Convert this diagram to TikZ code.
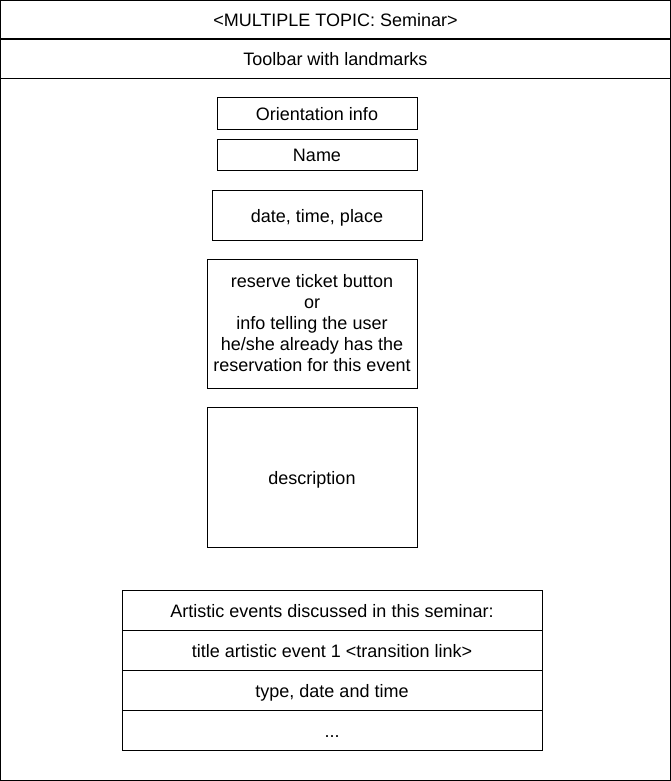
\documentclass[tikz,border=0pt]{standalone}
\usepackage{fontspec}
\setmainfont{Liberation Sans}
\usetikzlibrary{positioning}

\tikzset{
  base/.style={inner sep=0pt,outer sep=0pt,align=center,
    font=\fontsize{18}{21}\selectfont},
  label/.style={base,text height=18pt,text depth=4pt},
  box/.style={label,draw,line width=1pt},
  rowbox/.style={box,minimum width=420pt,minimum height=40pt}
}

\begin{document}
\begin{tikzpicture}[x=1pt,y=-1pt]
\useasboundingbox (0,0) rectangle (671,781);
% page frame with header and toolbar
\draw[line width=1.3pt] (0.5,0.5) rectangle (670.5,780.5);
\draw[line width=2pt] (0,39) -- (671,39);
\draw[line width=1.3pt] (0,78.5) -- (671,78.5);
\node[label] (title) at (335.5,19.5) {<MULTIPLE TOPIC: Seminar>};
\node[label] (toolbar) at (335.5,59) {Toolbar with landmarks};
% content boxes
\node[box,minimum width=200pt,minimum height=31pt] (orient) at (317,113.5) {Orientation info};
\node[box,minimum width=200pt,minimum height=31pt] (name) at (317,154.5) {Name};
\node[box,minimum width=210pt,minimum height=50pt] (when) at (317,215) {date, time, place};
\node[base,draw,line width=1pt,minimum width=210pt,minimum height=129pt] (reserve) at (312,323.5)
  {reserve ticket button\\or\\info telling the user\\he/she already has the\\reservation for this event};
\node[box,minimum width=210pt,minimum height=140pt] (descr) at (312,477) {description};
% list of artistic events
\node[rowbox] (head) at (332,610) {Artistic events discussed in this seminar:};
\node[rowbox,below=0pt of head] (event) {title artistic event 1 <transition link>};
\node[rowbox,below=0pt of event] (info) {type, date and time};
\node[rowbox,below=0pt of info] (more) {...};
\end{tikzpicture}
\end{document}
